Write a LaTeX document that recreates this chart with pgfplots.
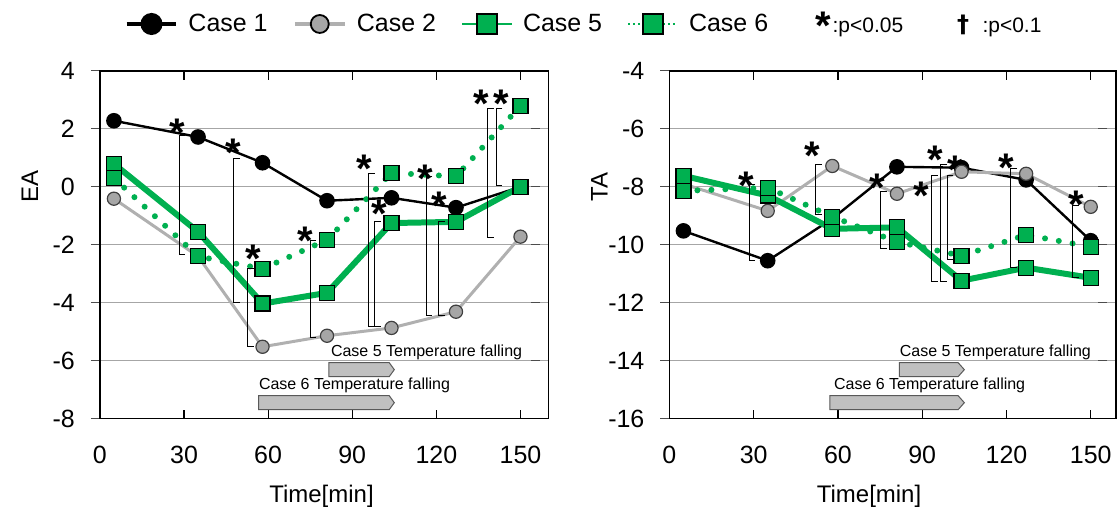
\documentclass[border=0pt]{standalone}
\usepackage{pgfplots}
\pgfplotsset{compat=1.18}
\usepackage{fontspec}
\setmainfont{Liberation Sans}
\newfontfamily\djv{DejaVu Sans}
\definecolor{cgreen}{HTML}{00B050}
\definecolor{cgray}{HTML}{B0B0B0}
\definecolor{cmark}{HTML}{A6A6A6}
\definecolor{cgridc}{HTML}{A6A6A6}
\definecolor{afill}{HTML}{C0C0C0}

\pgfplotsset{
  base/.style={
    scale only axis, height=174pt,
    xmin=0, xtick={0,30,...,150},
    axis line style={black, line width=0.7pt},
    tick align=inside, major tick length=4.5pt,
    ytick style={xshift=-4.5pt, black!70, line width=0.5pt},
    xtick style={black, line width=0.6pt},
    ymajorgrids, major grid style={cgridc, line width=0.6pt},
    /pgf/number format/assume math mode=true,
    ticklabel style={font=\fontsize{12.5}{15}\selectfont},
    xticklabel style={yshift=-10pt},
    yticklabel style={xshift=-9pt},
    label style={font=\fontsize{12}{14}\selectfont},
    clip=false,
  },
  c1/.style={black, line width=1.2pt, mark=*, mark size=3.3pt, mark options={fill=black, solid}, forget plot},
  c2/.style={cgray, line width=1.5pt, mark=*, mark size=3.3pt, mark options={fill=cmark, draw=black!75, line width=0.6pt, solid}, forget plot},
  c5/.style={cgreen, line width=3pt, mark=square*, mark size=3.75pt, mark options={fill=cgreen, draw=black, line width=0.6pt, solid}, forget plot},
  c6/.style={cgreen, line width=3pt, line cap=round, dash pattern=on 0pt off 7pt, mark=square*, mark size=3.75pt, mark options={fill=cgreen, draw=black, line width=0.6pt, solid}, forget plot},
  brk/.style={black, line width=0.5pt, no marks, forget plot},
  arr/.style={draw=black!65, fill=afill, line width=0.5pt, no marks, forget plot},
}
\tikzset{
  sig/.style={font=\bfseries\fontsize{20}{20}\selectfont, inner sep=0pt, anchor=base, yshift=-11.5pt},
  ann/.style={font=\fontsize{8}{10}\selectfont, inner sep=0pt, anchor=west},
}
\newcommand{\br}[3]{\addplot[brk] coordinates {(#1+2.2,#2) (#1,#2) (#1,#3) (#1+2.2,#3)};}
\newcommand{\sg}[2]{\node[sig] at (axis cs:#1,#2) {*};}

\begin{document}
\begin{tikzpicture}
\useasboundingbox (-50pt,-46.5pt) rectangle (509pt,209.5pt);
\begin{axis}[base, width=224.5pt, xmax=160,
  ymin=-8, ymax=4, ytick={-8,-6,...,4},
  ylabel={EA}, ylabel style={at={(axis description cs:-0.156,0.667)}, anchor=center},
  xlabel={Time[min]}, xlabel style={at={(axis description cs:0.494,-0.224)}, anchor=center},
  legend style={at={(axis description cs:0.054,1.135)}, anchor=west, draw=none, fill=none,
    inner sep=0pt, font=\fontsize{12.5}{14}\selectfont,
    /tikz/every odd column/.append style={column sep=3pt},
    /tikz/every even column/.append style={column sep=10.5pt}},
  legend columns=4, legend cell align=left,
  legend image code/.code={\draw[mark repeat=2,mark phase=2,#1] plot coordinates {(0pt,0pt) (12.5pt,0pt) (25pt,0pt)};},
]
\addlegendimage{black, line width=2pt, mark=*, mark size=4.5pt, mark options={fill=black}}
\addlegendentry{Case 1}
\addlegendimage{cgray, line width=2.2pt, mark=*, mark size=4.5pt, mark options={fill=cmark, draw=black, line width=0.9pt}}
\addlegendentry{Case 2}
\addlegendimage{cgreen, line width=1pt, mark=square*, mark size=5pt, mark options={fill=cgreen, draw=black, line width=0.9pt}}
\addlegendentry{Case 5}
\addlegendimage{cgreen, line width=1pt, dash pattern=on 1pt off 1.5pt, mark=square*, mark size=5pt, mark options={fill=cgreen, draw=black, line width=0.9pt, solid}}
\addlegendentry{Case 6}

\addplot[arr] coordinates {(81.7,-6.07) (103.2,-6.07) (105,-6.31) (103.2,-6.55) (81.7,-6.55)} -- cycle;
\addplot[arr] coordinates {(56.6,-7.21) (103.2,-7.21) (105,-7.45) (103.2,-7.69) (56.6,-7.69)} -- cycle;
\node[ann] at (axis cs:82.3,-5.71) {Case 5 Temperature falling};
\node[ann] at (axis cs:56.6,-6.86) {Case 6 Temperature falling};

\addplot[c1] coordinates {(5,2.28) (35,1.72) (58,0.83) (81,-0.48) (104,-0.38) (127,-0.72) (150,0.0)};
\addplot[c2] coordinates {(5,-0.41) (35,-2.4) (58,-5.52) (81,-5.14) (104,-4.87) (127,-4.31) (150,-1.72)};
\addplot[c5] coordinates {(5,0.79) (35,-1.55) (58,-4.03) (81,-3.66) (104,-1.25) (127,-1.21) (150,0.0)};
\addplot[c6] coordinates {(5,0.3) (35,-2.40) (58,-2.83) (81,-1.83) (104,0.48) (127,0.36) (150,2.79)};

\br{28.3}{1.76}{-2.34}
\br{47.7}{0.97}{-4.0}
\br{52.6}{-2.83}{-5.52}
\br{75.0}{-1.86}{-5.2}
\br{95.9}{0.45}{-4.83}
\br{98.1}{-1.21}{-4.83}
\br{116.4}{0.34}{-4.45}
\br{120.9}{-1.21}{-4.45}
\br{138.3}{2.72}{-1.76}
\br{141.3}{2.72}{0.03}

\sg{27.5}{2.2}
\sg{47.5}{1.51}
\sg{54.6}{-2.17}
\sg{73.4}{-1.54}
\sg{94.4}{0.95}
\sg{99.7}{-0.62}
\sg{116.0}{0.61}
\sg{120.9}{-0.33}
\sg{136.0}{3.17}
\sg{143.3}{3.17}
\end{axis}

\begin{axis}[base, at={(285pt,0pt)}, width=223.5pt, xmax=159,
  ymin=-16, ymax=-4, ytick={-16,-14,...,-4},
  ylabel={TA}, ylabel style={at={(axis description cs:-0.157,0.667)}, anchor=center},
  xlabel={Time[min]}, xlabel style={at={(axis description cs:0.447,-0.224)}, anchor=center},
]
\addplot[arr] coordinates {(81.9,-14.07) (102.8,-14.07) (105,-14.31) (102.8,-14.55) (81.9,-14.55)} -- cycle;
\addplot[arr] coordinates {(57.1,-15.21) (102.8,-15.21) (105,-15.45) (102.8,-15.69) (57.1,-15.69)} -- cycle;
\node[ann] at (axis cs:81.9,-13.71) {Case 5 Temperature falling};
\node[ann] at (axis cs:58.5,-14.86) {Case 6 Temperature falling};

\addplot[c1] coordinates {(5,-9.52) (35,-10.55) (58,-9.1) (81,-7.31) (104,-7.34) (127,-7.76) (150,-9.86)};
\addplot[c2] coordinates {(5,-7.9) (35,-8.83) (58,-7.28) (81,-8.24) (104,-7.48) (127,-7.55) (150,-8.69)};
\addplot[c5] coordinates {(5,-7.62) (35,-8.3) (58,-9.45) (81,-9.4) (104,-11.24) (127,-10.79) (150,-11.14)};
\addplot[c6] coordinates {(5,-8.14) (35,-8.03) (58,-9.03) (81,-9.9) (104,-10.38) (127,-9.66) (150,-10.07)};

\br{28.4}{-7.93}{-10.55}
\br{52.1}{-7.24}{-8.97}
\br{75.2}{-8.17}{-10.14}
\br{93.3}{-7.62}{-11.28}
\br{96.5}{-7.24}{-11.28}
\br{98.9}{-7.62}{-10.5}
\br{121.6}{-7.38}{-10.79}
\br{143.6}{-8.66}{-11.14}

\sg{27.3}{-7.66}
\sg{50.7}{-6.62}
\sg{73.9}{-7.7}
\sg{89.7}{-8.0}
\sg{94.7}{-6.76}
\sg{101.8}{-7.1}
\sg{119.9}{-7.03}
\sg{144.7}{-8.31}
\end{axis}

\node[font=\bfseries\fontsize{20}{20}\selectfont, inner sep=0pt, anchor=base, yshift=-11.5pt] at (362pt,201.25pt) {*};
\node[font=\fontsize{10.5}{12}\selectfont, inner sep=0pt, anchor=base west] at (366.5pt,193pt) {:p<0.05};
\node[font=\djv\bfseries\fontsize{12}{14}\selectfont, inner sep=0pt, anchor=base] at (432pt,193pt) {†};
\node[font=\fontsize{10.5}{12}\selectfont, inner sep=0pt, anchor=base west] at (441.5pt,193pt) {:p<0.1};
\end{tikzpicture}
\end{document}
